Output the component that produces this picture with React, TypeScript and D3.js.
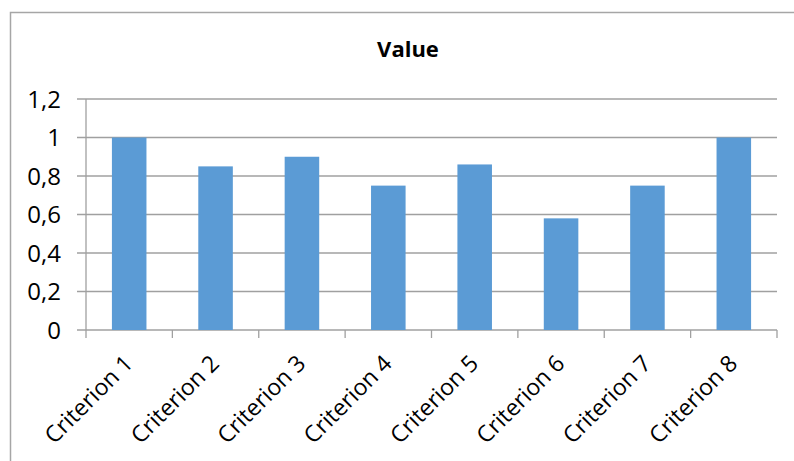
import { useEffect, useRef } from 'react';
import * as d3 from 'd3';

const categories = [
	'Criterion 1',
	'Criterion 2',
	'Criterion 3',
	'Criterion 4',
	'Criterion 5',
	'Criterion 6',
	'Criterion 7',
	'Criterion 8',
];
const values = [1, 0.85, 0.9, 0.75, 0.86, 0.58, 0.75, 1];
const yTicks = [0, 0.2, 0.4, 0.6, 0.8, 1, 1.2];
const title = 'Value';

const W = 794;
const H = 461;
const FONT = '"Open Sans", sans-serif';

export default function App() {
	const ref = useRef<SVGSVGElement | null>(null);

	useEffect(() => {
		if (!ref.current) return;
		const svg = d3.select(ref.current);
		svg.selectAll('*').remove();

		const margin = { top: 99, right: 17, bottom: 131, left: 86 };
		const width = W - margin.left - margin.right;
		const height = H - margin.top - margin.bottom;

		const x = d3.scaleBand().domain(categories).range([0, width]).paddingInner(0.6).paddingOuter(0.3);
		const xb = d3.scaleBand().domain(categories).range([0, width]);
		const y = d3.scaleLinear().domain([0, 1.2]).range([height, 0]);

		// outer chart frame
		svg
			.append('rect')
			.attr('x', 10.5)
			.attr('y', 12.5)
			.attr('width', 820)
			.attr('height', 500)
			.attr('fill', 'none')
			.attr('stroke', '#a6a6a6')
			.attr('stroke-width', 1.5);

		svg
			.append('text')
			.attr('x', 408)
			.attr('y', 57)
			.attr('text-anchor', 'middle')
			.style('font-family', FONT)
			.style('font-size', '22px')
			.style('font-weight', 'bold')
			.text(title);

		const g = svg.append('g').attr('transform', `translate(${margin.left}, ${margin.top})`);

		// gridlines + y labels
		yTicks.forEach(t => {
			g.append('line')
				.attr('x1', -9)
				.attr('x2', width)
				.attr('y1', y(t))
				.attr('y2', y(t))
				.attr('stroke', '#a0a0a0')
				.attr('stroke-width', 1.3);
			g.append('text')
				.attr('x', -25)
				.attr('y', y(t))
				.attr('dy', '0.36em')
				.attr('text-anchor', 'end')
				.style('font-family', FONT)
				.style('font-size', '24px')
				.text(d3.format('~g')(t).replace('.', ','));
		});

		g.append('line')
			.attr('x1', 0)
			.attr('x2', 0)
			.attr('y1', 0)
			.attr('y2', height)
			.attr('stroke', '#a0a0a0')
			.attr('stroke-width', 1.3);

		// x ticks at band edges
		const edges = categories.map(c => xb(c) as number).concat([width]);
		edges.forEach(e => {
			g.append('line')
				.attr('x1', e)
				.attr('x2', e)
				.attr('y1', height)
				.attr('y2', height + 8)
				.attr('stroke', '#a0a0a0')
				.attr('stroke-width', 1.3);
		});

		g.selectAll('rect.bar')
			.data(values)
			.join('rect')
			.attr('class', 'bar')
			.attr('x', (_, i) => x(categories[i]) as number)
			.attr('width', x.bandwidth())
			.attr('y', d => y(d))
			.attr('height', d => height - y(d))
			.attr('fill', '#5b9bd5');

		categories.forEach(c => {
			const cx = (xb(c) as number) + xb.bandwidth() / 2 + 5;
			g.append('text')
				.attr('transform', `translate(${cx}, ${height + 35}) rotate(-45)`)
				.attr('text-anchor', 'end')
				.style('font-family', FONT)
				.style('font-size', '23px')
				.text(c);
		});
	}, []);

	return (
		<svg
			ref={ref}
			width={W}
			height={H}
			style={{ position: 'absolute', left: 0, top: 0, background: '#fff' }}
		/>
	);
}
